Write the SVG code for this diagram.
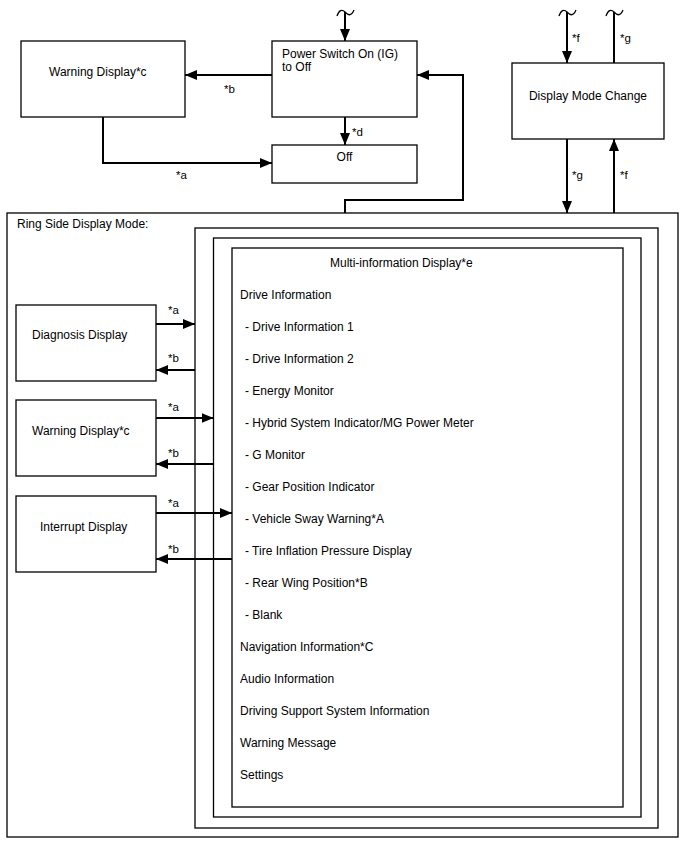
<svg xmlns="http://www.w3.org/2000/svg" width="688" height="852" viewBox="0 0 688 852">
<defs>
<marker id="ah" markerWidth="12" markerHeight="10" refX="12" refY="5" orient="auto" markerUnits="userSpaceOnUse">
<path d="M0,0 L12,5 L0,10 Z" fill="#000"/>
</marker>
</defs>
<style>
text{font-family:"Liberation Sans",Arial,sans-serif;font-size:12px;fill:#000}
.lbl{font-size:11.5px}
.box{fill:#fff;stroke:#000;stroke-width:1.3}
.frame{fill:none;stroke:#000;stroke-width:1.3}
.con{fill:none;stroke:#000;stroke-width:2}
.arr{fill:none;stroke:#000;stroke-width:2;marker-end:url(#ah)}
.sq{fill:none;stroke:#000;stroke-width:1.3}
</style>
<rect width="688" height="852" fill="#fff"/>

<g id="ring-side">
<rect class="frame" x="7" y="213" width="671" height="624"/>
<text x="17" y="228">Ring Side Display Mode:</text>
</g>
<g id="frame1"><rect class="frame" x="195" y="228" width="463" height="600"/></g>
<g id="frame2"><rect class="frame" x="213.5" y="238" width="427.5" height="579"/></g>
<g id="multi-info">
<rect class="frame" x="232" y="248" width="391" height="559"/>
<text x="330" y="267">Multi-information Display*e</text>
<text x="240" y="299">Drive Information</text>
<text x="245" y="331">- Drive Information 1</text>
<text x="245" y="363">- Drive Information 2</text>
<text x="245" y="395">- Energy Monitor</text>
<text x="245" y="427">- Hybrid System Indicator/MG Power Meter</text>
<text x="245" y="459">- G Monitor</text>
<text x="245" y="491">- Gear Position Indicator</text>
<text x="245" y="523">- Vehicle Sway Warning*A</text>
<text x="245" y="555">- Tire Inflation Pressure Display</text>
<text x="245" y="587">- Rear Wing Position*B</text>
<text x="245" y="619">- Blank</text>
<text x="240" y="651">Navigation Information*C</text>
<text x="240" y="683">Audio Information</text>
<text x="240" y="715">Driving Support System Information</text>
<text x="240" y="747">Warning Message</text>
<text x="240" y="779">Settings</text>
</g>

<g id="warning-top">
<rect class="box" x="21" y="41" width="164" height="76"/>
<text x="49" y="76">Warning Display*c</text>
</g>
<g id="power-switch">
<rect class="box" x="272" y="41" width="145" height="76"/>
<text x="282" y="58">Power Switch On (IG)</text>
<text x="282" y="71">to Off</text>
</g>
<g id="off">
<rect class="box" x="272" y="145" width="145" height="38"/>
<text x="344.5" y="161" text-anchor="middle">Off</text>
</g>
<g id="display-mode-change">
<rect class="box" x="512" y="63" width="152" height="76"/>
<text x="588" y="100" text-anchor="middle">Display Mode Change</text>
</g>
<g id="diagnosis">
<rect class="box" x="16" y="305" width="140" height="76"/>
<text x="32" y="339">Diagnosis Display</text>
</g>
<g id="warning-ring">
<rect class="box" x="16" y="400" width="140" height="76"/>
<text x="32" y="435">Warning Display*c</text>
</g>
<g id="interrupt">
<rect class="box" x="16" y="496" width="140" height="76"/>
<text x="40" y="531">Interrupt Display</text>
</g>

<g id="connectors">
<path class="sq" d="M337,16 C339,10 342,9 345,12 C348,15 351,17 354,10"/>
<path class="arr" d="M345,12 L345,41"/>
<path class="arr" d="M272,75 L185,75"/>
<text class="lbl" x="224" y="93">*b</text>
<path class="arr" d="M345,117 L345,145"/>
<text class="lbl" x="352" y="136">*d</text>
<path class="arr" d="M103,117 L103,163 L272,163"/>
<text class="lbl" x="176" y="179">*a</text>
<path class="arr" d="M345,213 L345,200 L463,200 L463,75 L417,75"/>

<path class="sq" d="M559,16 C561,10 564,9 567,12 C570,15 573,17 576,10"/>
<path class="arr" d="M567,12 L567,63"/>
<text class="lbl" x="572" y="42">*f</text>
<path class="sq" d="M606,16 C608,10 611,9 614,12 C617,15 620,17 623,10"/>
<path class="con" d="M614,63 L614,12"/>
<text class="lbl" x="620" y="42">*g</text>
<path class="arr" d="M567,139 L567,213"/>
<text class="lbl" x="572" y="179">*g</text>
<path class="arr" d="M614,213 L614,139"/>
<text class="lbl" x="620" y="179">*f</text>

<path class="arr" d="M156,324 L195,324"/>
<text class="lbl" x="168" y="314">*a</text>
<path class="arr" d="M195,370 L156,370"/>
<text class="lbl" x="168" y="362">*b</text>
<path class="arr" d="M156,418 L213.5,418"/>
<text class="lbl" x="168" y="411">*a</text>
<path class="arr" d="M213.5,464 L156,464"/>
<text class="lbl" x="168" y="457">*b</text>
<path class="arr" d="M156,513 L232,513"/>
<text class="lbl" x="168" y="507">*a</text>
<path class="arr" d="M232,559 L156,559"/>
<text class="lbl" x="168" y="553">*b</text>
</g>
</svg>
